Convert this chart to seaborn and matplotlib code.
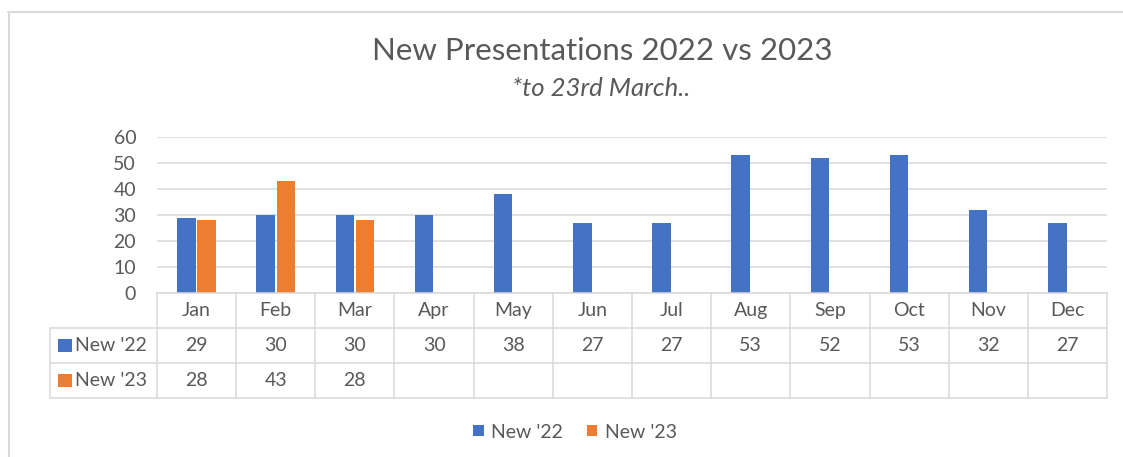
import pandas as pd
import matplotlib.pyplot as plt
import matplotlib.transforms as mtransforms
from matplotlib.patches import Rectangle, Patch
from matplotlib.lines import Line2D
import seaborn as sns

months = ['Jan', 'Feb', 'Mar', 'Apr', 'May', 'Jun', 'Jul', 'Aug', 'Sep', 'Oct', 'Nov', 'Dec']
new_22 = [29, 30, 30, 30, 38, 27, 27, 53, 52, 53, 32, 27]
new_23 = [28, 43, 28, None, None, None, None, None, None, None, None, None]
series = ["New '22", "New '23"]
colors = ['#4472C4', '#ED7D31']
y_ticks = [0, 10, 20, 30, 40, 50, 60]

text_gray = '#595959'
line_gray = '#D9D9D9'

sns.set_theme(style='white')
plt.rcParams['font.family'] = ['Lato', 'DejaVu Sans']

df = pd.DataFrame({
    'month': months * 2,
    'value': new_22 + new_23,
    'series': [series[0]] * len(months) + [series[1]] * len(months),
})

fig = plt.figure(figsize=(11.23, 4.57), dpi=100)
ax = fig.add_axes([157 / 1123, 1 - 293 / 457, 950 / 1123, 156 / 457])

sns.barplot(data=df, x='month', y='value', hue='series', order=months,
            hue_order=series, palette=colors, width=0.51, gap=0.09,
            linewidth=0, saturation=1, legend=False, ax=ax)

fs = 14

ax.set_xlim(-0.5, len(months) - 0.5)
ax.set_ylim(0, 60)
ax.set_yticks(y_ticks)
ax.set_yticklabels([str(t) for t in y_ticks], color=text_gray, fontsize=fs)
ax.tick_params(axis='y', length=0, pad=15)
ax.set_xticks([])
ax.set_xlabel('')
ax.set_ylabel('')
ax.grid(axis='y', color=line_gray, linewidth=1.1)
ax.set_axisbelow(True)
for s in ax.spines.values():
    s.set_visible(False)

# data table under the plot
tr = mtransforms.blended_transform_factory(ax.transData, ax.transAxes)
row_h = 35 / 156
left_x = -0.5 - 107 / 79.17
right_x = len(months) - 0.5
lk = dict(color=line_gray, linewidth=1.1, transform=tr, clip_on=False)

ax.plot([-0.5, right_x], [0, 0], **lk)
for r in range(1, 4):
    ax.plot([left_x, right_x], [-r * row_h, -r * row_h], **lk)
ax.plot([left_x, left_x], [-row_h, -3 * row_h], **lk)
for i in range(len(months) + 1):
    ax.plot([i - 0.5, i - 0.5], [0, -3 * row_h], **lk)

for i, m in enumerate(months):
    ax.text(i, -0.5 * row_h, m, ha='center', va='center', color=text_gray,
            fontsize=fs, transform=tr)
for r, vals in enumerate([new_22, new_23]):
    yc = -(r + 1.5) * row_h
    for i, v in enumerate(vals):
        if v is not None:
            ax.text(i, yc, str(v), ha='center', va='center', color=text_gray,
                    fontsize=fs, transform=tr)
    ax.add_patch(Rectangle((left_x + 8 / 79.17, yc - 6.5 / 156), 14 / 79.17, 13 / 156,
                           facecolor=colors[r], edgecolor='none', transform=tr, clip_on=False))
    ax.text(left_x + 25 / 79.17, yc, series[r], ha='left', va='center',
            color=text_gray, fontsize=fs, transform=tr)

# titles
fig.text(602 / 1123, 1 - 51 / 457, 'New Presentations 2022 vs 2023', ha='center',
         va='center', fontsize=22.5, color=text_gray)
fig.text(601 / 1123, 1 - 89 / 457, '*to 23rd March..', ha='center', va='center',
         fontsize=18.5, color=text_gray, fontstyle='italic')

handles = [Patch(facecolor=c, edgecolor='none') for c in colors]
fig.legend(handles, series, loc='center', bbox_to_anchor=(575 / 1123, 1 - 432 / 457),
           ncol=2, frameon=False, fontsize=fs, handlelength=0.55, handleheight=0.55,
           handletextpad=0.4, columnspacing=1.2, labelcolor=text_gray)

# chart border
fig.add_artist(Line2D([8 / 1123, 1], [1 - 11.5 / 457, 1 - 11.5 / 457],
                      transform=fig.transFigure, color=line_gray, linewidth=1.5))
fig.add_artist(Line2D([8.5 / 1123, 8.5 / 1123], [0, 1 - 11.5 / 457],
                      transform=fig.transFigure, color=line_gray, linewidth=1.5))

fig.savefig('out.png', dpi=100, facecolor='white')
